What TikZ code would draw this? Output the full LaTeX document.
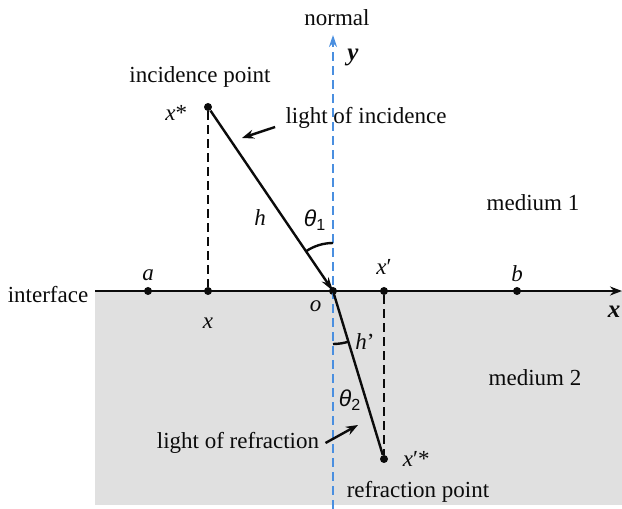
\documentclass[tikz,border=0pt]{standalone}
\usepackage{fontspec}
\setmainfont{Liberation Serif}
\setsansfont{Liberation Sans}
\usepackage{xcolor}
\usetikzlibrary{arrows.meta, positioning}
\definecolor{normalblue}{HTML}{4A8FE0}
\definecolor{mediumgray}{HTML}{E0E0E0}
\definecolor{inkblack}{HTML}{0B0B0B}
\newcommand{\var}[1]{\textit{#1}}
\newcommand{\ang}[1]{{\sffamily\itshape θ\textsubscript{\upshape #1}}}

\begin{document}
\begin{tikzpicture}[
  x=0.5pt, y=0.5pt,
  dot/.style={circle, fill=inkblack, inner sep=0pt, minimum size=4pt},
  lbl/.style={font=\fontsize{11.5}{13}\selectfont, inner sep=1pt, text=inkblack},
  axislbl/.style={font=\fontsize{12.5}{14}\selectfont\bfseries\itshape, inner sep=1pt, text=inkblack},
  ray/.style={line width=1.2pt, draw=inkblack},
  drop/.style={line width=1.2pt, draw=inkblack, dash pattern=on 4.5pt off 2.5pt},
  normalaxis/.style={line width=1.1pt, draw=normalblue, dash pattern=on 4.5pt off 2.5pt},
  pointer/.style={line width=1.2pt, draw=inkblack, -{Stealth[length=6pt, width=4.5pt]}},
  >=Stealth
]
\useasboundingbox (0,0) rectangle (622,509);
\fill[mediumgray] (95,4) rectangle (622,218);

\node[dot] (po) at (333,218) {};
\node[dot] (pa) at (148,218) {};
\node[dot] (px) at (208,218) {};
\node[dot] (pxp) at (384,218) {};
\node[dot] (pb) at (517,218) {};
\node[dot] (pxs) at (208,402) {};
\node[dot] (pxps) at (384,50) {};
\coordinate (nbot) at (333,0);
\coordinate (ntop) at (333,474);
\coordinate (ileft) at (95,218);
\coordinate (iright) at (622,218);

\draw[normalaxis, -{Stealth[length=6pt, width=4pt]}] (nbot) -- (ntop);
\draw[line width=1.2pt, draw=inkblack, -{Stealth[length=6pt, width=4.5pt]}] (ileft) -- (iright);

\draw[drop] (pxs) -- (px);
\draw[drop] (pxp) -- (pxps);
\draw[ray, -{Stealth[length=7pt, width=4pt]}] (pxs) -- (po.center);
\draw[ray] (po.center) -- (pxps);
\draw[ray] (po.center) ++(124:48) arc[start angle=124, end angle=90, radius=48];
\draw[ray] (po.center) ++(-90:53) arc[start angle=-90, end angle=-73, radius=53];

\node[lbl] (normallbl) at (337,491) {normal};
\node[axislbl] (ylbl) at (353,452) {y};
\node[axislbl] (xlbl) at (614,197) {x};
\node[lbl] (interfacelbl) at (48,214) {interface};
\node[lbl] (incpt) at (200,432) {incidence point};
\node[lbl] (refpt) at (418,17) {refraction point};
\node[lbl] (med1) at (533,306) {medium 1};
\node[lbl] (med2) at (535,131) {medium 2};

\node[lbl, above=1.5pt of pa] (alabel) {\var{a}};
\node[lbl, above=1pt of pb] (blabel) {\var{b}};
\node[lbl, above=5pt of pxp] (xplabel) {\var{x}′};
\node[lbl, below=10pt of px] (xlabel) {\var{x}};
\node[lbl, below left=2pt and 3pt of po] (olabel) {\var{o}};
\node[lbl, left=7pt of pxs, yshift=-3pt] (xslabel) {\var{x}*};
\node[lbl, right=6pt of pxps] (xpslabel) {\var{x}′*};

\node[lbl] (hlabel) at (260,291) {\var{h}};
\node[lbl] (theta1) at (315,289) {\ang{1}};
\node[lbl] (hplabel) at (365,167) {\var{h}'};
\node[lbl] (theta2) at (350,109) {\ang{2}};

\node[lbl] (lightinc) at (366,391) {light of incidence};
\node[lbl] (lightref) at (238,66) {light of refraction};
\coordinate (inctip) at (242,371);
\coordinate (reftip) at (358,84);
\draw[pointer] ([shift={(-4pt,2pt)}]lightinc.south west) -- (inctip);
\draw[pointer] ([xshift=2pt]lightref.east) -- (reftip);
\end{tikzpicture}
\end{document}
